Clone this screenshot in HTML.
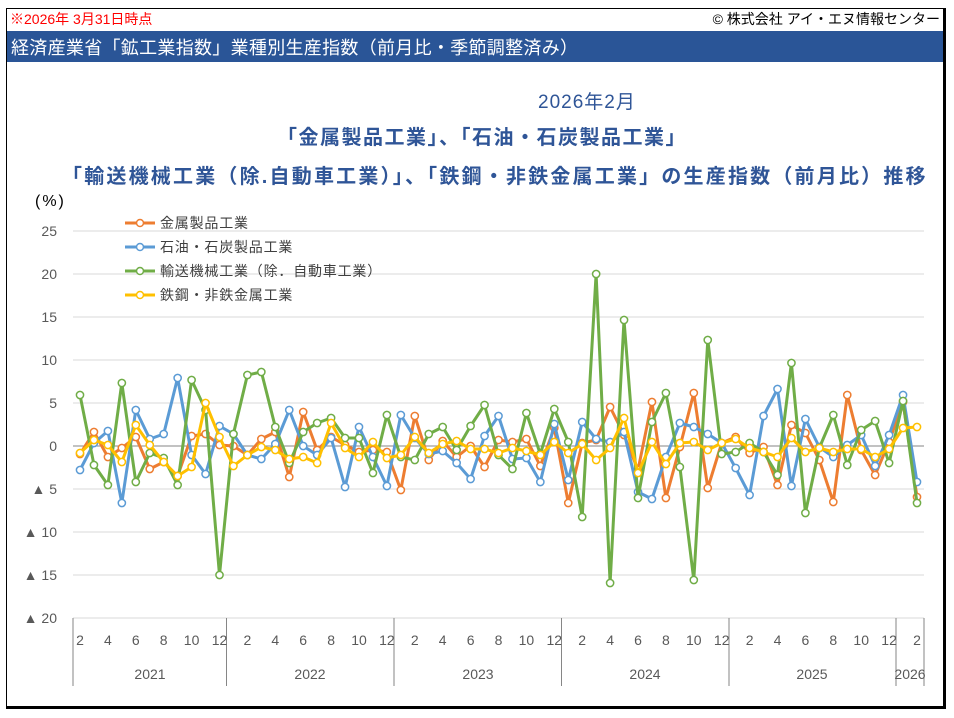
<!DOCTYPE html>
<html><head><meta charset="utf-8"><style>
html,body{margin:0;padding:0;background:#fff;}
body{width:954px;height:718px;position:relative;overflow:hidden;font-family:"Liberation Sans","Noto Sans CJK JP",sans-serif;}
.frame{position:absolute;left:6px;top:8px;width:936px;height:697px;border-left:1px solid #000;border-top:1px solid #000;border-right:3px solid #000;border-bottom:3px solid #000;}
.t{position:absolute;white-space:nowrap;}
</style></head><body>
<div class="frame"></div>
<div class="t" style="left:10px;top:9px;font-size:14px;color:#ff0000;">※2026年 3月31日時点</div>
<div class="t" style="right:14px;top:9px;font-size:14px;color:#000;">© 株式会社 アイ・エヌ情報センター</div>
<div class="t" style="left:7px;top:31px;width:936px;height:31px;background:#2a5597;"></div>
<div class="t" style="left:11px;top:34px;font-size:18px;color:#fff;letter-spacing:0.3px;">経済産業省「鉱工業指数」業種別生産指数（前月比・季節調整済み）</div>
<div class="t" style="left:538px;top:87px;font-size:19px;color:#2f5597;letter-spacing:1px;">2026年2月</div>
<div class="t" style="left:277px;top:121px;font-size:20px;font-weight:bold;color:#2f5597;letter-spacing:1.5px;">「金属製品工業」、「石油・石炭製品工業」</div>
<div class="t" style="left:62px;top:160px;font-size:20px;font-weight:bold;color:#2f5597;letter-spacing:2.2px;">「輸送機械工業（除.自動車工業）」、「鉄鋼・非鉄金属工業」の生産指数（前月比）推移</div>
<svg width="954" height="718" style="position:absolute;left:0;top:0" id="s" font-family="Liberation Sans, Noto Sans CJK JP, sans-serif">
<text x="35" y="206" font-size="16" fill="#000" letter-spacing="2">(%)</text>
<g font-size="14" fill="#595959" text-anchor="end">
<text x="57" y="236">25</text><text x="57" y="279">20</text><text x="57" y="322">15</text><text x="57" y="365">10</text><text x="57" y="408">5</text><text x="57" y="451">0</text><text x="57" y="494">▲ 5</text><text x="57" y="537">▲ 10</text><text x="57" y="580">▲ 15</text><text x="57" y="623">▲ 20</text>
</g>
<g id="grid"></g>
<g font-size="14" fill="#595959" text-anchor="middle" id="xl">
<text x="150" y="679">2021</text><text x="310" y="679">2022</text><text x="478" y="679">2023</text><text x="645" y="679">2024</text><text x="812" y="679">2025</text><text x="910" y="679">2026</text>
</g>
<g id="ser"></g>
<g font-size="14" fill="#404040" letter-spacing="0.8">
<line x1="125" y1="223" x2="155" y2="223" stroke="#ed7d31" stroke-width="3"/><circle cx="140" cy="223" r="3.5" fill="#fff" stroke="#ed7d31" stroke-width="1.5"/><text x="160" y="228">金属製品工業</text>
<line x1="125" y1="247" x2="155" y2="247" stroke="#5b9bd5" stroke-width="3"/><circle cx="140" cy="247" r="3.5" fill="#fff" stroke="#5b9bd5" stroke-width="1.5"/><text x="160" y="252">石油・石炭製品工業</text>
<line x1="125" y1="271" x2="155" y2="271" stroke="#70ad47" stroke-width="3"/><circle cx="140" cy="271" r="3.5" fill="#fff" stroke="#70ad47" stroke-width="1.5"/><text x="160" y="276">輸送機械工業（除．自動車工業）</text>
<line x1="125" y1="295" x2="155" y2="295" stroke="#ffc000" stroke-width="3"/><circle cx="140" cy="295" r="3.5" fill="#fff" stroke="#ffc000" stroke-width="1.5"/><text x="160" y="300">鉄鋼・非鉄金属工業</text>
</g>
</svg>
<script>
var NS="http://www.w3.org/2000/svg";
function el(p,n,a,t){var e=document.createElementNS(NS,n);for(var k in a)e.setAttribute(k,a[k]);if(t)e.textContent=t;p.appendChild(e);return e;}
var g=document.getElementById('grid');
for(var v=25;v>=-20;v-=5){var y=446-v*8.6;el(g,'line',{x1:73,x2:924,y1:y,y2:y,stroke:v==0?'#868686':'#d9d9d9','stroke-width':1});}
[73,226.5,394,561.5,729,896,924].forEach(function(x){el(g,'line',{x1:x,x2:x,y1:618,y2:686,stroke:'#868686','stroke-width':1});});
var xl=document.getElementById('xl');
for(var i=0;i<61;i++){var m=(i+1)%12+1;if(m%2==0)el(xl,'text',{x:80+13.95*i,y:645},String(m));}
var S=[
['#ed7d31',[454,432,457,448,437,469,462,476,436,434,445,446,455,439,432,477,412,450,437,445,452,450,452,490,416,460,441,457,446,467,440,442,439,466,428,503,443,440,407,435,470,402,498,447,393,488,443,437,453,447,485,425,433,460,502,395,450,475,442,402,497]],
['#5b9bd5',[470,443,431,503,410,439,434,378,455,474,426,434,455,459,444,410,446,455,438,487,427,457,486,415,438,454,451,463,479,436,416,459,458,482,424,480,422,439,442,432,492,499,457,423,427,434,443,468,495,416,389,486,419,447,457,445,435,466,435,395,482]],
['#70ad47',[395,465,485,383,482,453,458,485,380,410,575,434,375,372,427,463,432,423,418,438,438,473,415,457,460,434,427,450,426,405,455,469,413,454,409,442,517,274,583,320,498,422,393,467,580,340,454,452,443,452,475,363,513,448,415,465,430,421,463,401,503]],
['#ffc000',[453,440,445,462,425,445,462,476,467,403,437,466,455,447,450,459,457,463,423,448,457,442,458,455,437,453,444,441,449,449,453,448,451,455,442,453,444,460,448,418,473,442,464,443,442,450,443,439,448,452,457,438,452,448,452,449,449,457,449,428,427]]];
var sg=document.getElementById('ser');
S.forEach(function(s){var pts=s[1].map(function(y,i){return (80+13.95*i).toFixed(1)+','+y;}).join(' ');
el(sg,'polyline',{points:pts,fill:'none',stroke:s[0],'stroke-width':3,'stroke-linejoin':'round'});
s[1].forEach(function(y,i){el(sg,'circle',{cx:80+13.95*i,cy:y,r:3.6,fill:'#fff',stroke:s[0],'stroke-width':1.5});});});
</script>
</body></html>
